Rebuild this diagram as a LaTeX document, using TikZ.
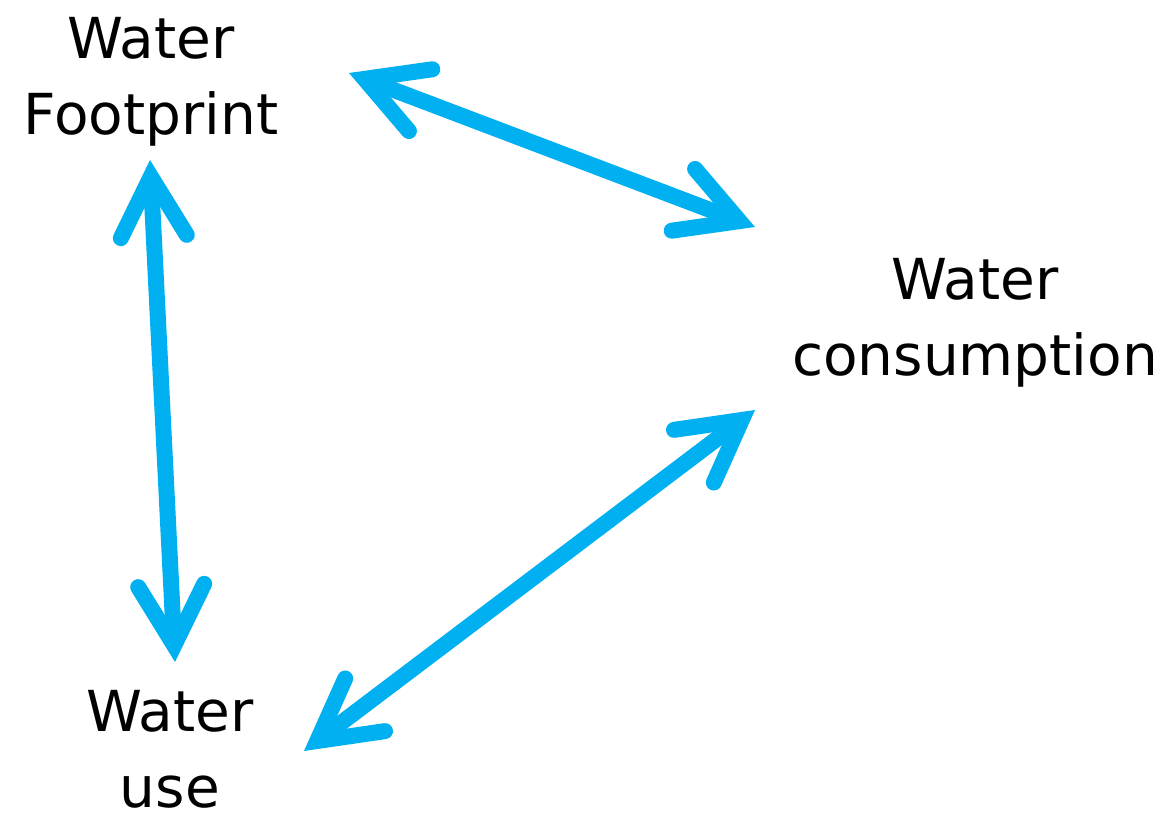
\documentclass[tikz,border=0pt]{standalone}
\usepackage{fontspec}
\setmainfont{DejaVu Sans}
\usetikzlibrary{arrows.meta}
\definecolor{wblue}{HTML}{00B0F0}
\tikzset{
  lbl/.style={align=center, inner sep=0pt, font=\fontsize{56.5}{76}\selectfont},
  barb/.tip={Straight Barb[length=60pt, width=66pt, line cap=round, line join=miter]},
  dbl/.style={draw=wblue, line width=16pt, barb-barb}
}
\begin{document}
\begin{tikzpicture}[x=1pt,y=1pt]
\useasboundingbox (0,0) rectangle (1162,819);
\node[lbl] (fp) at (151,819-82) {Water\\Footprint};
\node[lbl] (wc) at (975,819-323) {Water\\consumption};
\node[lbl] (wu) at (170,819-749) {Water\\use};
\coordinate (a1s) at (349,819-73);
\coordinate (a1e) at (755,819-227);
\coordinate (a2s) at (150,819-160);
\coordinate (a2e) at (175,819-662);
\coordinate (a3s) at (304,819-751);
\coordinate (a3e) at (755,819-410);
\draw[dbl] (a1s) -- (a1e);
\draw[dbl] (a2s) -- (a2e);
\draw[dbl] (a3s) -- (a3e);
\end{tikzpicture}
\end{document}
